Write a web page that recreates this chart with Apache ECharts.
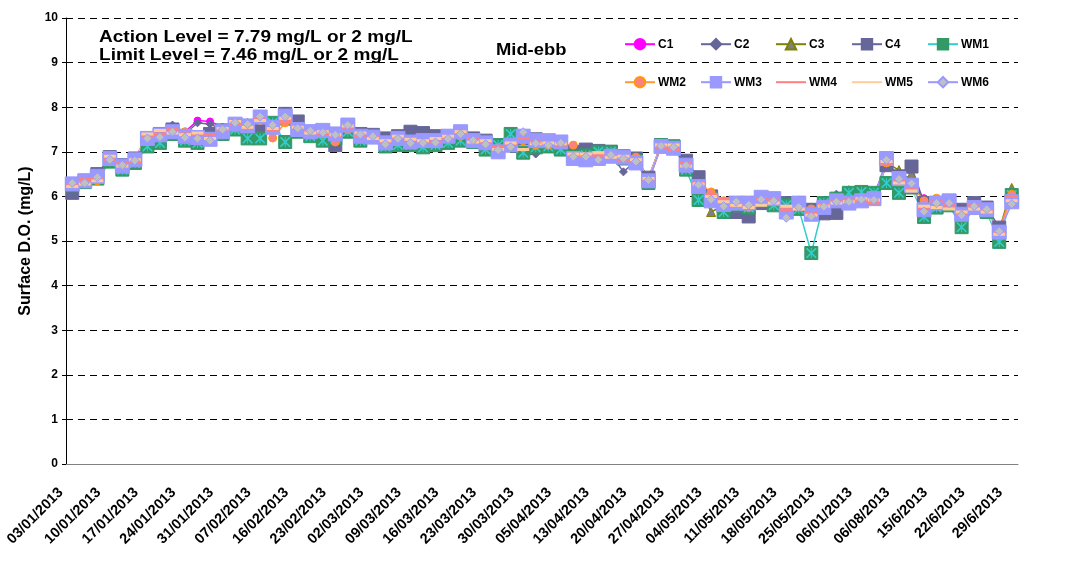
<!DOCTYPE html>
<html lang="en">
<head>
    <meta charset="UTF-8">
    <title>Surface D.O. Mid-ebb</title>
    <script type="text/javascript" src="https://cdn.jsdelivr.net/npm/echarts@6/dist/echarts.min.js"></script>
    <style type="text/css">
        html,body{margin:0;padding:0;background:#fff;}
        #main{width:1070px;height:561px;}
    </style>
</head>
<body>
<div id="main"></div>
<script type="text/javascript">
    // x轴日期
    var dates = ["03/01/2013","05/01/2013","08/01/2013","10/01/2013","12/01/2013","15/01/2013","17/01/2013","19/01/2013",
        "22/01/2013","24/01/2013","26/01/2013","29/01/2013","31/01/2013","02/02/2013","05/02/2013","07/02/2013",
        "09/02/2013","14/02/2013","16/02/2013","19/02/2013","21/02/2013","23/02/2013","26/02/2013","28/02/2013",
        "02/03/2013","05/03/2013","07/03/2013","09/03/2013","12/03/2013","14/03/2013","16/03/2013","19/03/2013",
        "21/03/2013","23/03/2013","26/03/2013","28/03/2013","30/03/2013","02/04/2013","03/04/2013","05/04/2013",
        "09/04/2013","11/04/2013","13/04/2013","16/04/2013","18/04/2013","20/04/2013","23/04/2013","25/04/2013",
        "27/04/2013","30/04/2013","02/05/2013","04/05/2013","07/05/2013","09/05/2013","11/05/2013","14/05/2013",
        "16/05/2013","18/05/2013","21/05/2013","23/05/2013","25/05/2013","28/05/2013","30/05/2013","06/01/2013",
        "04/06/2013","06/06/2013","06/08/2013","11/6/2013","13/6/2013","15/6/2013","18/6/2013","20/6/2013",
        "22/6/2013","25/6/2013","27/6/2013","29/6/2013"];

    // y轴刻度
    var yTicks = [0,1,2,3,4,5,6,7,8,9,10];

    // 各站点数据
    var c1 = [6.32,6.38,6.45,6.85,6.72,6.85,7.35,7.45,7.50,7.45,7.70,7.68,7.55,7.65,7.60,7.75,7.62,7.72,7.55,7.50,
        7.45,7.35,7.55,7.40,7.38,7.22,7.30,7.25,7.22,7.25,7.30,7.38,7.30,7.20,7.10,7.15,7.30,7.20,7.18,7.15,
        6.95,6.92,6.90,6.95,6.88,6.82,6.40,7.15,7.12,6.72,6.30,6.00,5.85,5.90,5.80,5.90,5.92,5.65,5.80,5.65,
        5.78,5.95,5.95,6.00,5.98,6.75,6.45,6.30,5.96,5.90,5.88,5.65,5.80,5.72,5.25,5.95];
    var c2 = [6.15,6.35,6.50,6.80,6.70,6.82,7.32,7.40,7.60,7.40,7.65,7.62,7.50,7.60,7.62,7.72,7.60,7.75,7.55,7.50,
        7.45,7.30,7.55,7.38,7.40,7.25,7.30,7.25,7.25,7.30,7.28,7.35,7.28,7.20,7.05,7.12,6.93,6.95,7.15,7.15,
        6.92,6.95,6.90,6.95,6.55,6.80,6.40,7.10,7.10,6.75,6.35,6.00,5.80,5.85,5.65,5.85,5.90,5.60,5.80,5.70,
        5.75,6.05,6.15,6.10,6.05,6.70,6.50,6.40,5.90,5.85,5.85,5.70,5.82,5.75,5.30,5.90];
    var c3 = [6.25,6.30,6.40,6.80,6.65,6.78,7.25,7.35,7.45,7.38,7.35,7.30,7.50,7.60,7.65,7.70,7.58,7.70,7.50,7.48,
        7.42,7.30,7.50,7.38,7.35,7.20,7.28,7.22,7.20,7.38,7.25,7.40,7.30,7.15,7.05,7.10,7.30,7.15,7.18,7.12,
        6.95,6.90,6.88,6.95,6.85,6.80,6.38,7.15,7.12,6.72,6.30,5.65,5.80,5.85,5.75,5.88,5.92,5.62,5.78,5.75,
        5.72,5.92,5.95,6.02,5.98,6.75,6.59,6.50,5.85,5.85,5.82,5.65,5.78,5.70,5.25,6.19];
    var c4 = [6.08,6.35,6.50,6.88,6.70,6.85,7.30,7.40,7.50,7.35,7.30,7.40,7.48,7.55,7.50,7.55,7.62,7.85,7.68,7.45,
        7.40,7.15,7.55,7.40,7.38,7.30,7.35,7.45,7.42,7.35,7.30,7.40,7.30,7.25,7.15,7.18,7.30,7.28,7.22,7.08,
        7.00,7.05,7.02,7.00,6.90,6.85,6.42,7.15,7.12,6.80,6.43,6.00,5.78,5.65,5.55,5.85,5.90,5.85,5.75,5.70,
        5.62,5.63,6.05,6.05,6.00,6.70,6.45,6.67,5.85,5.80,5.90,5.70,5.85,5.75,5.30,5.90];
    var wm1 = [6.25,6.32,6.40,6.78,6.60,6.75,7.12,7.20,7.40,7.25,7.20,7.30,7.40,7.50,7.30,7.30,7.65,7.22,7.45,7.35,
        7.25,7.30,7.45,7.25,7.35,7.12,7.15,7.15,7.10,7.15,7.20,7.25,7.22,7.05,7.15,7.40,6.98,7.10,7.12,7.05,
        6.90,6.92,7.00,7.00,6.85,6.80,6.30,7.15,7.12,6.60,5.92,5.95,5.65,5.80,5.75,5.90,5.80,5.80,5.72,4.73,
        5.85,5.95,6.08,6.10,6.08,6.30,6.08,6.20,5.54,5.75,5.80,5.31,5.75,5.65,4.98,6.03];
    var wm2 = [6.30,6.32,6.35,6.78,6.70,6.80,7.30,7.40,7.48,7.45,7.35,7.30,7.40,7.55,7.60,7.70,7.31,7.65,7.50,7.45,
        7.40,7.22,7.50,7.40,7.35,7.20,7.28,7.20,7.22,7.25,7.28,7.35,7.25,7.20,7.08,7.12,7.25,7.15,7.15,7.15,
        7.15,6.90,6.92,6.95,6.85,6.88,6.38,7.15,7.12,6.70,6.28,6.10,5.90,5.85,5.75,5.92,5.90,5.60,5.80,5.72,
        5.80,5.90,5.90,5.95,5.95,6.75,6.40,6.25,5.90,5.96,5.80,5.65,5.80,5.70,5.25,6.05];
    var wm3 = [6.28,6.35,6.45,6.85,6.68,6.82,7.30,7.38,7.45,7.35,7.32,7.28,7.45,7.62,7.58,7.78,7.55,7.80,7.50,7.45,
        7.48,7.40,7.60,7.35,7.33,7.20,7.30,7.22,7.25,7.25,7.35,7.45,7.25,7.20,7.00,7.15,7.35,7.25,7.25,7.22,
        6.85,6.82,6.85,6.90,6.88,6.75,6.35,7.12,7.08,6.70,6.22,5.90,5.82,5.85,5.85,5.98,5.95,5.65,5.85,5.60,
        5.75,5.90,5.85,5.90,5.95,6.85,6.40,6.25,5.70,5.85,5.90,5.60,5.75,5.70,5.20,5.88];
    var wm4 = [6.25,6.38,6.40,6.82,6.75,6.78,7.35,7.40,7.50,7.40,7.40,7.38,7.48,7.62,7.55,7.75,7.50,7.68,7.55,7.45,
        7.40,7.35,7.55,7.35,7.32,7.22,7.33,7.24,7.22,7.22,7.32,7.42,7.30,7.22,7.10,7.18,7.30,7.22,7.20,7.15,
        6.92,6.90,6.92,6.90,6.80,6.80,6.35,7.10,7.05,6.75,6.30,6.05,5.95,5.80,5.78,5.95,5.92,5.70,5.72,5.62,
        5.82,5.88,5.92,5.90,5.85,6.72,6.35,6.15,5.75,5.88,5.80,5.62,5.80,5.68,5.18,6.00];
    var wm5 = [6.22,6.28,6.35,6.90,6.68,6.82,7.40,7.48,7.42,7.38,7.42,7.30,7.52,7.68,7.55,7.70,7.52,7.75,7.55,7.42,
        7.45,7.38,7.58,7.42,7.30,7.25,7.35,7.28,7.25,7.30,7.35,7.45,7.22,7.25,7.05,7.20,7.05,7.18,7.20,7.18,
        6.95,6.95,6.98,6.88,6.90,6.82,6.40,7.15,7.15,6.68,6.28,6.00,5.88,5.80,5.75,5.80,5.85,5.78,5.72,5.58,
        5.78,5.85,5.88,5.95,5.92,6.78,6.30,6.12,5.78,5.75,5.72,5.65,5.72,5.65,5.15,5.90];
    var wm6 = [6.30,6.30,6.43,6.82,6.70,6.80,7.30,7.33,7.45,7.32,7.30,7.25,7.50,7.65,7.62,7.79,7.60,7.79,7.53,7.47,
        7.43,7.38,7.60,7.39,7.35,7.17,7.29,7.20,7.20,7.21,7.29,7.40,7.26,7.17,7.04,7.11,7.44,7.19,7.15,7.20,
        6.89,6.89,6.82,6.93,6.85,6.78,6.37,7.13,7.10,6.70,6.26,5.93,5.78,5.88,5.81,5.93,5.90,5.52,5.76,5.55,
        5.77,5.88,5.88,5.93,5.92,6.82,6.39,6.29,5.66,5.85,5.85,5.58,5.78,5.71,5.22,5.83];

    var names = ["C1","C2","C3","C4","WM1","WM2","WM3","WM4","WM5","WM6"];
    var font = "'Liberation Sans', Arial, sans-serif";
    // 星号标记
    var starPath = 'path://M0,0 L1.2,0 L5,3.8 L8.8,0 L10,0 L10,1.2 L6.2,5 L10,8.8 L10,10 L8.8,10 L5,6.2 L1.2,10 L0,10 L0,8.8 L3.8,5 L0,1.2 Z M4.5,0 L5.5,0 L5.5,10 L4.5,10 Z';

    function mk(name, data, lineColor, symbol, size, fill, border) {
        return {
            name: name,
            type: 'line',
            data: data,
            symbol: symbol,
            symbolSize: size,
            showAllSymbol: true,
            lineStyle: {color: lineColor, width: 1.5},
            itemStyle: {color: fill, borderColor: border || fill, borderWidth: 1},
            emphasis: {disabled: true},
            animation: false
        };
    }

    var series = [
        mk('C1', c1, '#FF00FF', 'circle', 7, '#FF00FF'),
        mk('C2', c2, '#666699', 'diamond', 8, '#666699'),
        mk('C3', c3, '#808000', 'triangle', 9, '#808080', '#808000'),
        mk('C4', c4, '#666699', 'rect', 13, '#666699'),
        mk('WM1', wm1, '#33CCCC', 'rect', 13, '#339966'),
        {
            name: 'WM1x', type: 'line', data: wm1, symbol: starPath, symbolSize: 10,
            showAllSymbol: true, lineStyle: {width: 0, opacity: 0},
            itemStyle: {color: '#33CCCC'}, emphasis: {disabled: true}, animation: false, silent: true
        },
        mk('WM2', wm2, '#FF9933', 'circle', 8, '#FF8080', '#FF9900'),
        mk('WM3', wm3, '#9999FF', 'rect', 14, '#9999FF'),
        mk('WM4', wm4, '#FF8080', 'rect', [8, 2], '#FF8080'),
        mk('WM5', wm5, '#FFCC99', 'rect', [8, 2], '#FFCC99'),
        mk('WM6', wm6, '#9999FF', 'diamond', 9, '#C0C0C0', '#9999FF')
    ];

    // 图例，两行五列
    var legendX = [619, 695, 770, 846, 922];
    var legends = [];
    for (var i = 0; i < names.length; i++) {
        var item = {name: names[i]};
        // WM4、WM5 图例只画线
        if (names[i] == 'WM4' || names[i] == 'WM5') {
            item.itemStyle = {opacity: 0};
        }
        legends.push({
            data: [item],
            left: legendX[i % 5],
            top: i < 5 ? 33 : 71,
            itemWidth: 30,
            itemHeight: 13,
            itemGap: 0,
            textStyle: {fontFamily: font, fontWeight: 'bold', fontSize: 12, color: '#000', padding: [0, 0, 0, -2]}
        });
    }

    function label(text, x, y, size, sx) {
        return {
            type: 'text', left: x, top: y, scaleX: sx, silent: true,
            style: {text: text, fontFamily: font, fontWeight: 'bold', fontSize: size, fill: '#000'}
        };
    }

    var myChart = echarts.init(document.getElementById('main'));
    var option = {
        backgroundColor: '#fff',
        animation: false,
        graphic: [
            label('Action Level = 7.79 mg/L or 2 mg/L', 99, 29, 17, 1.12),
            label('Limit Level = 7.46 mg/L or 2 mg/L', 99, 47, 17, 1.12),
            label('Mid-ebb', 496, 42, 17, 1.08)
        ],
        legend: legends,
        grid: {left: 66, right: 52, top: 18, bottom: 97},
        xAxis: {
            type: 'category',
            data: dates,
            boundaryGap: true,
            axisLine: {lineStyle: {color: '#808080', width: 1}},
            axisTick: {interval: 0, length: 5, lineStyle: {color: '#000'}},
            axisLabel: {
                interval: 2, rotate: 45, margin: 15, padding: [0, 16, 0, 0],
                fontFamily: font, fontWeight: 'bold', fontSize: 14.5, color: '#000'
            },
            splitLine: {show: false}
        },
        yAxis: {
            type: 'value',
            min: yTicks[0],
            max: yTicks[yTicks.length - 1],
            interval: 1,
            name: 'Surface D.O. (mg/L)',
            nameLocation: 'middle',
            nameGap: 22,
            nameTextStyle: {fontFamily: font, fontWeight: 'bold', fontSize: 16, color: '#000'},
            axisLine: {show: true, lineStyle: {color: '#000', width: 1}},
            axisTick: {show: true, length: 4, lineStyle: {color: '#000'}},
            axisLabel: {fontFamily: font, fontWeight: 'bold', fontSize: 12, color: '#000', margin: 8},
            splitLine: {lineStyle: {color: '#000', type: [7, 5], width: 1}}
        },
        series: series
    };
    myChart.setOption(option);
</script>
</body>
</html>
